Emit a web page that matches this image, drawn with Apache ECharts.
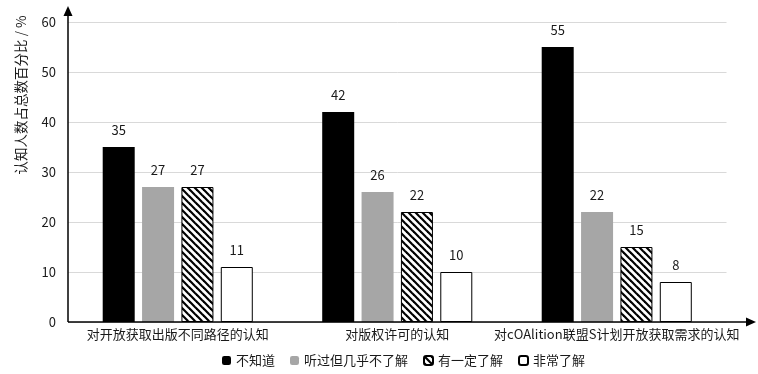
<!DOCTYPE html>
<html><head><meta charset="utf-8">
<script src="https://cdn.jsdelivr.net/npm/echarts@6/dist/echarts.min.js"></script>
<style>html,body{margin:0;padding:0;background:#fff}#c{width:758px;height:374px}</style>
</head><body><div id="c"></div>
<script>
const categories = ['对开放获取出版不同路径的认知', '对版权许可的认知', '对cOAlition联盟S计划开放获取需求的认知'];
const seriesNames = ['不知道', '听过但几乎不了解', '有一定了解', '非常了解'];
const valNotKnow = [35, 42, 55];
const valHeard = [27, 26, 22];
const valSome = [27, 22, 15];
const valVery = [11, 10, 8];
const yTicks = [0, 10, 20, 30, 40, 50, 60];
const yName = '认知人数占总数百分比 / %';

const FONT = '"Noto Sans CJK SC", "Noto Sans", sans-serif';
const pc = document.createElement('canvas');
pc.width = 7; pc.height = 7;
const g = pc.getContext('2d');
g.fillStyle = '#fff'; g.fillRect(0, 0, 7, 7);
g.strokeStyle = '#000'; g.lineWidth = 2.2;
for (const o of [-7, 0, 7]) { g.beginPath(); g.moveTo(o - 1, -1); g.lineTo(o + 8, 8); g.stroke(); }

const chart = echarts.init(document.getElementById('c'));
const label = { show: true, position: 'top', distance: 10, color: '#1a1a1a', fontSize: 13, fontFamily: FONT };
function mk(name, data, style) {
  return { name, type: 'bar', data, barWidth: 32, barGap: '23%', label, itemStyle: style };
}
const L = 68, B = 322;
chart.setOption({
  animation: false,
  textStyle: { fontFamily: FONT },
  grid: { left: L, right: 31.5, top: 22, bottom: 374 - B },
  legend: {
    left: 217, top: 349, itemWidth: 9, itemHeight: 9, itemGap: 15,
    textStyle: { fontSize: 13, color: '#1a1a1a', fontFamily: FONT },
    data: seriesNames
  },
  xAxis: {
    type: 'category', data: categories,
    axisLine: { show: false }, axisTick: { show: false },
    axisLabel: { fontSize: 13, color: '#1a1a1a', margin: 6, interval: 0, fontFamily: FONT }
  },
  yAxis: {
    type: 'value', min: yTicks[0], max: yTicks[yTicks.length - 1], interval: 10,
    axisLine: { show: false }, axisTick: { show: false },
    axisLabel: { fontSize: 13, color: '#1a1a1a', margin: 12, fontFamily: FONT },
    splitLine: { lineStyle: { color: '#d9d9d9', width: 1 } }
  },
  series: [
    mk(seriesNames[0], valNotKnow, { color: '#000' }),
    mk(seriesNames[1], valHeard, { color: '#a6a6a6' }),
    mk(seriesNames[2], valSome, { color: { image: pc, repeat: 'repeat' }, borderColor: '#000', borderWidth: 1 }),
    mk(seriesNames[3], valVery, { color: '#fff', borderColor: '#000', borderWidth: 1 })
  ],
  graphic: [
    { type: 'line', shape: { x1: L, y1: B, x2: 748, y2: B }, style: { stroke: '#000', lineWidth: 1.5 }, z: 100 },
    { type: 'polygon', shape: { points: [[746, B - 4.5], [756, B], [746, B + 4.5]] }, style: { fill: '#000' }, z: 100 },
    { type: 'line', shape: { x1: L, y1: B, x2: L, y2: 14 }, style: { stroke: '#000', lineWidth: 1.5 }, z: 100 },
    { type: 'polygon', shape: { points: [[L - 4.5, 16], [L, 6], [L + 4.5, 16]] }, style: { fill: '#000' }, z: 100 },
    { type: 'text', x: 21, y: 95, rotation: Math.PI / 2,
      style: { text: yName, font: '13.5px ' + FONT, fill: '#1a1a1a', align: 'center', verticalAlign: 'middle' } }
  ]
});
</script></body></html>
